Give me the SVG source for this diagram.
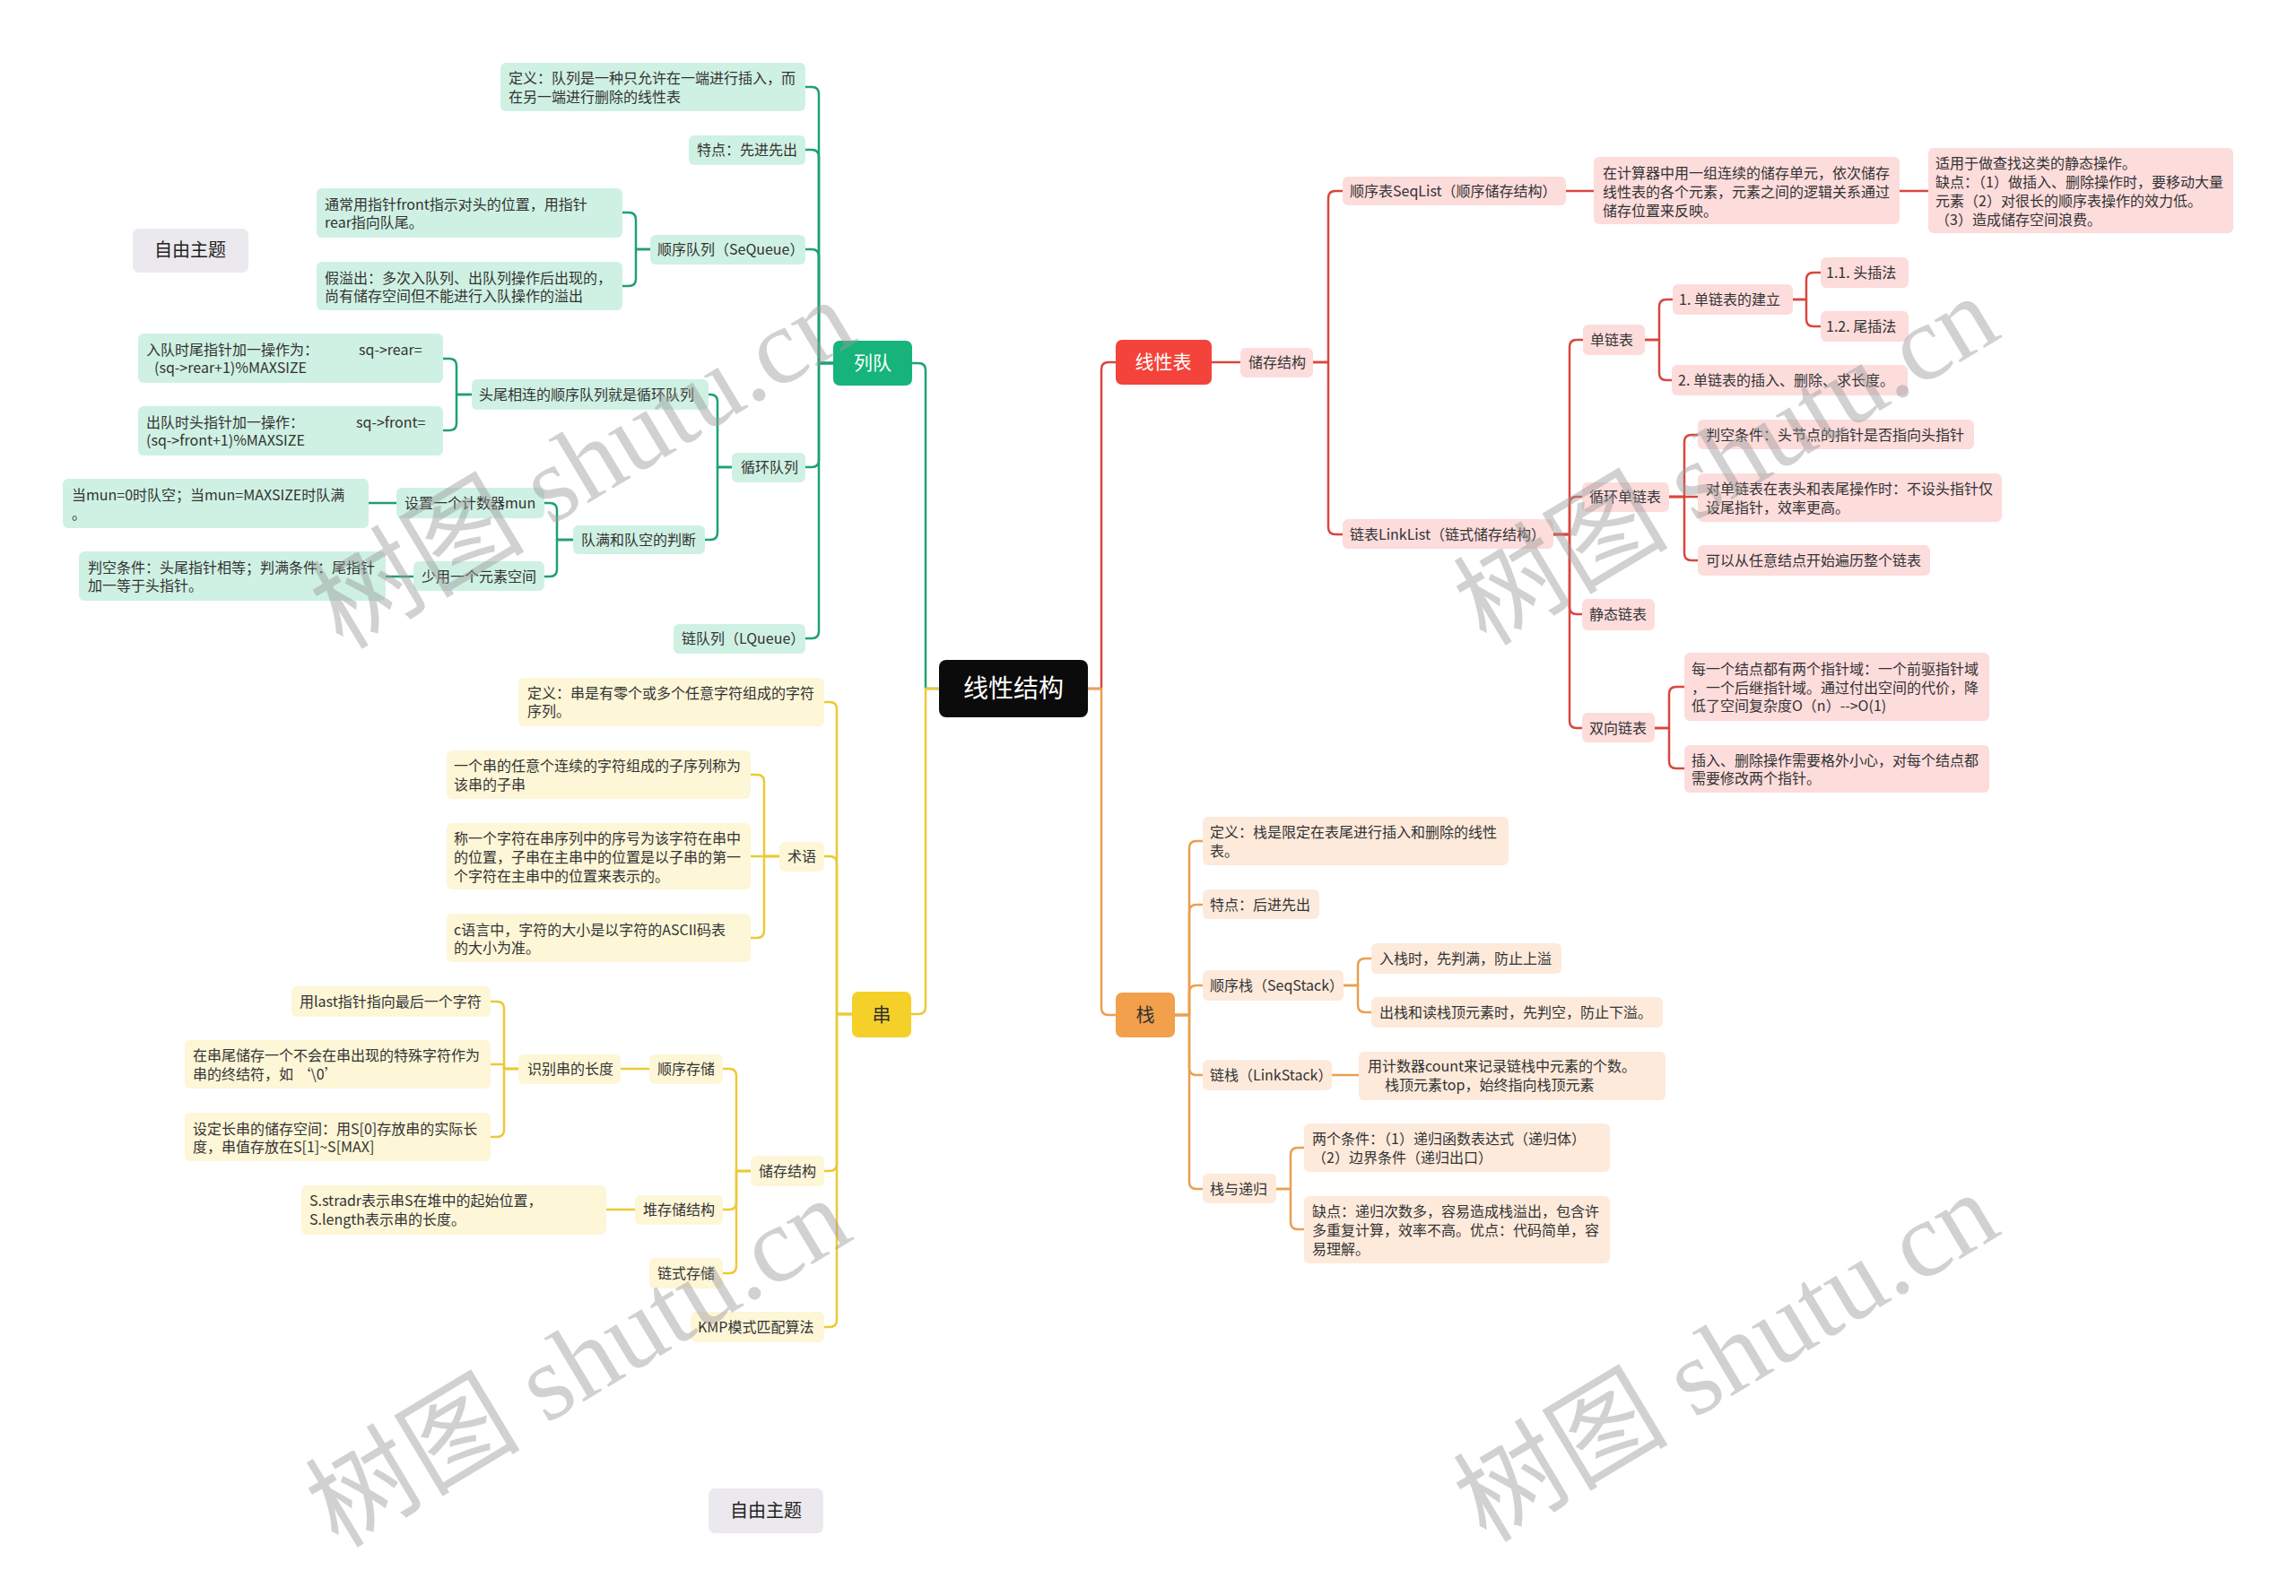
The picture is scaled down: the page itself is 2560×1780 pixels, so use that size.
<svg xmlns="http://www.w3.org/2000/svg" width="2560" height="1780" viewBox="0 0 2560 1780">
<style>
text{font-family:"Noto Sans CJK SC","Noto Sans",sans-serif}
.t{font-size:16px;fill:#333}
.m{font-size:21px;text-anchor:middle}
.lg{fill:#cff1e3}
.ly{fill:#fdf6d7}
.lr{fill:#fddcdc}
.lo{fill:#fdeadb}
.c{fill:none;stroke-width:2.5;stroke-linecap:round;stroke-linejoin:round}
.cg{stroke:#1fa073}
.cy{stroke:#ecc935}
.cr{stroke:#d9473f}
.co{stroke:#eaa050}
.free{fill:#ebe9ed}
.wm{font-family:"Liberation Serif","Noto Sans CJK SC",serif;font-size:120px;fill:#9a9a9a;opacity:.45;text-anchor:middle}
</style>
<rect width="2560" height="1780" fill="#ffffff"/>

<g id="connectors">
  <path class="c cg" d="M1047 768 H1032 V413 Q1032 405 1024 405 H1017"/>
  <path class="c cy" d="M1047 768 H1032 V1123 Q1032 1131 1024 1131 H1016"/>
  <path class="c cr" d="M1213 768 H1228 V412 Q1228 404 1236 404 H1244"/>
  <path class="c co" d="M1213 768 H1228 V1124 Q1228 1132 1236 1132 H1244"/>
  <path class="c cg" d="M929 405 H913 V105 Q913 97 905 97 H898"/>
  <path class="c cg" d="M929 405 H913 V175 Q913 167 905 167 H898"/>
  <path class="c cg" d="M929 405 H913 V286 Q913 278 905 278 H898"/>
  <path class="c cg" d="M929 405 H913 V513 Q913 521 905 521 H898"/>
  <path class="c cg" d="M929 405 H913 V704 Q913 712 905 712 H898"/>
  <path class="c cg" d="M725 278 H709 V245 Q709 237 701 237 H694"/>
  <path class="c cg" d="M725 278 H709 V311 Q709 319 701 319 H694"/>
  <path class="c cg" d="M816 521 H800 V448 Q800 440 792 440 H790"/>
  <path class="c cg" d="M816 521 H800 V594 Q800 602 792 602 H786"/>
  <path class="c cg" d="M526 440 H509 V408 Q509 400 501 400 H494"/>
  <path class="c cg" d="M526 440 H509 V472 Q509 480 501 480 H494"/>
  <path class="c cg" d="M639 602 H621 V569 Q621 561 613 561 H607"/>
  <path class="c cg" d="M639 602 H621 V635 Q621 643 613 643 H607"/>
  <path class="c cg" d="M442 561 H411"/>
  <path class="c cg" d="M461 643 H430"/>
  <path class="c cy" d="M950 1131 H933 V791 Q933 783 925 783 H919"/>
  <path class="c cy" d="M950 1131 H933 V963 Q933 955 925 955 H919"/>
  <path class="c cy" d="M950 1131 H933 V1298 Q933 1306 925 1306 H919"/>
  <path class="c cy" d="M950 1131 H933 V1472 Q933 1480 925 1480 H919"/>
  <path class="c cy" d="M869 955 H852 V872 Q852 864 844 864 H837"/>
  <path class="c cy" d="M869 955 H837"/>
  <path class="c cy" d="M869 955 H852 V1038 Q852 1046 844 1046 H837"/>
  <path class="c cy" d="M837 1306 H821 V1200 Q821 1192 813 1192 H806"/>
  <path class="c cy" d="M837 1306 H821 V1341 Q821 1349 813 1349 H806"/>
  <path class="c cy" d="M837 1306 H821 V1412 Q821 1420 813 1420 H806"/>
  <path class="c cy" d="M724 1192 H692"/>
  <path class="c cy" d="M578 1192 H562 V1125 Q562 1117 554 1117 H547"/>
  <path class="c cy" d="M578 1192 H562 V1187 H547"/>
  <path class="c cy" d="M578 1192 H562 V1260 Q562 1268 554 1268 H547"/>
  <path class="c cy" d="M708 1349 H676"/>
  <path class="c cr" d="M1351 404 H1383"/>
  <path class="c cr" d="M1464 404 H1481 V221 Q1481 213 1489 213 H1497"/>
  <path class="c cr" d="M1464 404 H1481 V588 Q1481 596 1489 596 H1497"/>
  <path class="c cr" d="M1746 213 H1777"/>
  <path class="c cr" d="M2118 213 H2150"/>
  <path class="c cr" d="M1732 596 H1750 V387 Q1750 379 1758 379 H1765"/>
  <path class="c cr" d="M1732 596 H1750 V562 Q1750 554 1758 554 H1764"/>
  <path class="c cr" d="M1732 596 H1750 V677 Q1750 685 1758 685 H1764"/>
  <path class="c cr" d="M1732 596 H1750 V804 Q1750 812 1758 812 H1764"/>
  <path class="c cr" d="M1834 379 H1850 V342 Q1850 334 1858 334 H1865"/>
  <path class="c cr" d="M1834 379 H1850 V416 Q1850 424 1858 424 H1864"/>
  <path class="c cr" d="M1999 334 H2014 V312 Q2014 304 2022 304 H2030"/>
  <path class="c cr" d="M1999 334 H2014 V356 Q2014 364 2022 364 H2030"/>
  <path class="c cr" d="M1861 554 H1878 V493 Q1878 485 1886 485 H1893"/>
  <path class="c cr" d="M1861 554 H1893"/>
  <path class="c cr" d="M1861 554 H1878 V617 Q1878 625 1886 625 H1893"/>
  <path class="c cr" d="M1845 812 H1861 V774 Q1861 766 1869 766 H1878"/>
  <path class="c cr" d="M1845 812 H1861 V849 Q1861 857 1869 857 H1878"/>
  <path class="c co" d="M1310 1132 H1326 V946 Q1326 938 1334 938 H1341"/>
  <path class="c co" d="M1310 1132 H1326 V1017 Q1326 1009 1334 1009 H1341"/>
  <path class="c co" d="M1310 1132 H1326 V1107 Q1326 1099 1334 1099 H1341"/>
  <path class="c co" d="M1310 1132 H1326 V1191 Q1326 1199 1334 1199 H1341"/>
  <path class="c co" d="M1310 1132 H1326 V1318 Q1326 1326 1334 1326 H1341"/>
  <path class="c co" d="M1498 1099 H1514 V1077 Q1514 1069 1522 1069 H1529"/>
  <path class="c co" d="M1498 1099 H1514 V1121 Q1514 1129 1522 1129 H1529"/>
  <path class="c co" d="M1485 1199 H1515"/>
  <path class="c co" d="M1423 1326 H1439 V1288 Q1439 1280 1447 1280 H1454"/>
  <path class="c co" d="M1423 1326 H1439 V1363 Q1439 1371 1447 1371 H1454"/>
</g>

<g id="root">
  <rect x="1047" y="736" width="166" height="64" rx="8" fill="#0b0b0b"/>
  <text x="1130" y="778" style="font-size:28px;fill:#fff;text-anchor:middle">线性结构</text>
</g>

<g id="queue">
  <rect x="929" y="380" width="88" height="50" rx="7" fill="#16b47a"/>
  <text class="m" x="973" y="412" fill="#fff">列队</text>
</g>
<g id="string">
  <rect x="950" y="1106" width="66" height="51" rx="7" fill="#f5d028"/>
  <text class="m" x="983" y="1139" fill="#333">串</text>
</g>
<g id="linear-list">
  <rect x="1244" y="379" width="107" height="50" rx="7" fill="#f3433a"/>
  <text class="m" x="1297" y="411" fill="#fff">线性表</text>
</g>
<g id="stack">
  <rect x="1244" y="1107" width="66" height="50" rx="7" fill="#f2a04b"/>
  <text class="m" x="1277" y="1139" fill="#333">栈</text>
</g>

<g id="free1">
  <rect class="free" x="148" y="255" width="129" height="49" rx="7"/>
  <text x="212" y="286" style="font-size:20px;fill:#222;text-anchor:middle">自由主题</text>
</g>
<g id="free2">
  <rect class="free" x="790" y="1660" width="128" height="50" rx="7"/>
  <text x="854" y="1692" style="font-size:20px;fill:#222;text-anchor:middle">自由主题</text>
</g>

<g id="q-def"><rect class="lg" x="558" y="70" width="340" height="54" rx="6"/>
  <text class="t"><tspan x="567" y="93">定义：队列是一种只允许在一端进行插入，而</tspan><tspan x="567" y="114">在另一端进行删除的线性表</tspan></text></g>
<g id="q-feature"><rect class="lg" x="768" y="151" width="130" height="33" rx="6"/>
  <text class="t" x="777" y="173">特点：先进先出</text></g>
<g id="q-seq"><rect class="lg" x="725" y="262" width="173" height="33" rx="6"/>
  <text class="t" x="733" y="284">顺序队列（SeQueue）</text></g>
<g id="q-seq-1"><rect class="lg" x="353" y="210" width="341" height="55" rx="6"/>
  <text class="t"><tspan x="362" y="234">通常用指针front指示对头的位置，用指针</tspan><tspan x="362" y="254">rear指向队尾。</tspan></text></g>
<g id="q-seq-2"><rect class="lg" x="353" y="292" width="341" height="54" rx="6"/>
  <text class="t"><tspan x="362" y="316">假溢出：多次入队列、出队列操作后出现的，</tspan><tspan x="362" y="336">尚有储存空间但不能进行入队操作的溢出</tspan></text></g>
<g id="q-circ"><rect class="lg" x="816" y="505" width="82" height="33" rx="6"/>
  <text class="t" x="826" y="527">循环队列</text></g>
<g id="q-circ-1"><rect class="lg" x="526" y="423" width="264" height="34" rx="6"/>
  <text class="t" x="534" y="446">头尾相连的顺序队列就是循环队列</text></g>
<g id="q-circ-1a"><rect class="lg" x="154" y="372" width="340" height="55" rx="6"/>
  <text class="t"><tspan x="163" y="396">入队时尾指针加一操作为：</tspan><tspan x="400" y="396">sq-&gt;rear=</tspan><tspan x="172" y="416">(sq-&gt;rear+1)%MAXSIZE</tspan></text></g>
<g id="q-circ-1b"><rect class="lg" x="154" y="453" width="340" height="55" rx="6"/>
  <text class="t"><tspan x="163" y="477">出队时头指针加一操作：</tspan><tspan x="397" y="477">sq-&gt;front=</tspan><tspan x="163" y="497">(sq-&gt;front+1)%MAXSIZE</tspan></text></g>
<g id="q-circ-2"><rect class="lg" x="639" y="586" width="147" height="32" rx="6"/>
  <text class="t" x="648" y="608">队满和队空的判断</text></g>
<g id="q-circ-2a"><rect class="lg" x="442" y="544" width="165" height="34" rx="6"/>
  <text class="t" x="451" y="567">设置一个计数器mun</text></g>
<g id="q-circ-2a1"><rect class="lg" x="70" y="534" width="341" height="55" rx="6"/>
  <text class="t"><tspan x="80" y="558">当mun=0时队空；当mun=MAXSIZE时队满</tspan><tspan x="80" y="579">。</tspan></text></g>
<g id="q-circ-2b"><rect class="lg" x="461" y="626" width="146" height="33" rx="6"/>
  <text class="t" x="470" y="649">少用一个元素空间</text></g>
<g id="q-circ-2b1"><rect class="lg" x="88" y="615" width="342" height="55" rx="6"/>
  <text class="t"><tspan x="98" y="639">判空条件：头尾指针相等；判满条件：尾指针</tspan><tspan x="98" y="659">加一等于头指针。</tspan></text></g>
<g id="q-link"><rect class="lg" x="751" y="696" width="147" height="33" rx="6"/>
  <text class="t" x="760" y="718">链队列（LQueue）</text></g>

<g id="s-def"><rect class="ly" x="578" y="756" width="341" height="54" rx="6"/>
  <text class="t"><tspan x="588" y="779">定义：串是有零个或多个任意字符组成的字符</tspan><tspan x="588" y="799">序列。</tspan></text></g>
<g id="s-term"><rect class="ly" x="869" y="939" width="50" height="33" rx="6"/>
  <text class="t" x="878" y="961">术语</text></g>
<g id="s-term-1"><rect class="ly" x="498" y="837" width="339" height="54" rx="6"/>
  <text class="t"><tspan x="506" y="860">一个串的任意个连续的字符组成的子序列称为</tspan><tspan x="506" y="881">该串的子串</tspan></text></g>
<g id="s-term-2"><rect class="ly" x="498" y="918" width="339" height="74" rx="6"/>
  <text class="t"><tspan x="506" y="941">称一个字符在串序列中的序号为该字符在串中</tspan><tspan x="506" y="962">的位置，子串在主串中的位置是以子串的第一</tspan><tspan x="506" y="983">个字符在主串中的位置来表示的。</tspan></text></g>
<g id="s-term-3"><rect class="ly" x="498" y="1019" width="339" height="54" rx="6"/>
  <text class="t"><tspan x="506" y="1043">c语言中，字符的大小是以字符的ASCII码表</tspan><tspan x="506" y="1063">的大小为准。</tspan></text></g>
<g id="s-store"><rect class="ly" x="837" y="1289" width="82" height="34" rx="6"/>
  <text class="t" x="846" y="1312">储存结构</text></g>
<g id="s-seq"><rect class="ly" x="724" y="1176" width="82" height="33" rx="6"/>
  <text class="t" x="733" y="1198">顺序存储</text></g>
<g id="s-len"><rect class="ly" x="578" y="1176" width="114" height="33" rx="6"/>
  <text class="t" x="588" y="1198">识别串的长度</text></g>
<g id="s-len-1"><rect class="ly" x="325" y="1100" width="222" height="34" rx="6"/>
  <text class="t" x="334" y="1123">用last指针指向最后一个字符</text></g>
<g id="s-len-2"><rect class="ly" x="206" y="1160" width="341" height="54" rx="6"/>
  <text class="t"><tspan x="215" y="1183">在串尾储存一个不会在串出现的特殊字符作为</tspan><tspan x="215" y="1204">串的终结符，如 ‘\0’</tspan></text></g>
<g id="s-len-3"><rect class="ly" x="206" y="1241" width="341" height="54" rx="6"/>
  <text class="t"><tspan x="215" y="1265">设定长串的储存空间：用S[0]存放串的实际长</tspan><tspan x="215" y="1285">度，串值存放在S[1]~S[MAX]</tspan></text></g>
<g id="s-heap"><rect class="ly" x="708" y="1333" width="98" height="33" rx="6"/>
  <text class="t" x="717" y="1355">堆存储结构</text></g>
<g id="s-heap-1"><rect class="ly" x="336" y="1322" width="340" height="55" rx="6"/>
  <text class="t"><tspan x="345" y="1345">S.stradr表示串S在堆中的起始位置，</tspan><tspan x="345" y="1366">S.length表示串的长度。</tspan></text></g>
<g id="s-link"><rect class="ly" x="724" y="1403" width="82" height="34" rx="6"/>
  <text class="t" x="733" y="1426">链式存储</text></g>
<g id="s-kmp"><rect class="ly" x="770" y="1463" width="149" height="34" rx="6"/>
  <text class="t" x="778" y="1486">KMP模式匹配算法</text></g>

<g id="l-store"><rect class="lr" x="1383" y="388" width="81" height="33" rx="6"/>
  <text class="t" x="1392" y="410">储存结构</text></g>
<g id="l-seq"><rect class="lr" x="1497" y="197" width="249" height="32" rx="6"/>
  <text class="t" x="1505" y="219">顺序表SeqList（顺序储存结构）</text></g>
<g id="l-seq-1"><rect class="lr" x="1777" y="175" width="341" height="75" rx="6"/>
  <text class="t"><tspan x="1787" y="199">在计算器中用一组连续的储存单元，依次储存</tspan><tspan x="1787" y="220">线性表的各个元素，元素之间的逻辑关系通过</tspan><tspan x="1787" y="241">储存位置来反映。</tspan></text></g>
<g id="l-seq-2"><rect class="lr" x="2150" y="165" width="340" height="95" rx="6"/>
  <text class="t"><tspan x="2158" y="188">适用于做查找这类的静态操作。</tspan><tspan x="2158" y="209">缺点：（1）做插入、删除操作时，要移动大量</tspan><tspan x="2158" y="230">元素（2）对很长的顺序表操作的效力低。</tspan><tspan x="2158" y="251">（3）造成储存空间浪费。</tspan></text></g>
<g id="l-link"><rect class="lr" x="1497" y="579" width="235" height="33" rx="6"/>
  <text class="t" x="1505" y="602">链表LinkList（链式储存结构）</text></g>
<g id="l-single"><rect class="lr" x="1765" y="362" width="69" height="34" rx="6"/>
  <text class="t" x="1773" y="385">单链表</text></g>
<g id="l-single-1"><rect class="lr" x="1865" y="317" width="134" height="34" rx="6"/>
  <text class="t" x="1872" y="340">1. 单链表的建立</text></g>
<g id="l-single-1a"><rect class="lr" x="2030" y="287" width="98" height="34" rx="6"/>
  <text class="t" x="2036" y="310">1.1. 头插法</text></g>
<g id="l-single-1b"><rect class="lr" x="2030" y="347" width="98" height="34" rx="6"/>
  <text class="t" x="2036" y="370">1.2. 尾插法</text></g>
<g id="l-single-2"><rect class="lr" x="1864" y="407" width="263" height="34" rx="6"/>
  <text class="t" x="1871" y="430">2. 单链表的插入、删除、求长度。</text></g>
<g id="l-circ"><rect class="lr" x="1764" y="538" width="97" height="33" rx="6"/>
  <text class="t" x="1772" y="560">循环单链表</text></g>
<g id="l-circ-1"><rect class="lr" x="1893" y="468" width="308" height="33" rx="6"/>
  <text class="t" x="1902" y="491">判空条件：头节点的指针是否指向头指针</text></g>
<g id="l-circ-2"><rect class="lr" x="1893" y="528" width="339" height="54" rx="6"/>
  <text class="t"><tspan x="1902" y="551">对单链表在表头和表尾操作时：不设头指针仅</tspan><tspan x="1902" y="572">设尾指针，效率更高。</tspan></text></g>
<g id="l-circ-3"><rect class="lr" x="1893" y="608" width="259" height="34" rx="6"/>
  <text class="t" x="1902" y="631">可以从任意结点开始遍历整个链表</text></g>
<g id="l-static"><rect class="lr" x="1764" y="668" width="81" height="35" rx="6"/>
  <text class="t" x="1772" y="691">静态链表</text></g>
<g id="l-double"><rect class="lr" x="1764" y="795" width="81" height="33" rx="6"/>
  <text class="t" x="1772" y="818">双向链表</text></g>
<g id="l-double-1"><rect class="lr" x="1878" y="728" width="340" height="76" rx="6"/>
  <text class="t"><tspan x="1886" y="752">每一个结点都有两个指针域：一个前驱指针域</tspan><tspan x="1886" y="773">，一个后继指针域。通过付出空间的代价，降</tspan><tspan x="1886" y="793">低了空间复杂度O（n）--&gt;O(1)</tspan></text></g>
<g id="l-double-2"><rect class="lr" x="1878" y="831" width="340" height="53" rx="6"/>
  <text class="t"><tspan x="1886" y="854">插入、删除操作需要格外小心，对每个结点都</tspan><tspan x="1886" y="874">需要修改两个指针。</tspan></text></g>

<g id="k-def"><rect class="lo" x="1341" y="911" width="341" height="54" rx="6"/>
  <text class="t"><tspan x="1349" y="934">定义：栈是限定在表尾进行插入和删除的线性</tspan><tspan x="1349" y="955">表。</tspan></text></g>
<g id="k-feature"><rect class="lo" x="1341" y="992" width="130" height="33" rx="6"/>
  <text class="t" x="1349" y="1015">特点：后进先出</text></g>
<g id="k-seq"><rect class="lo" x="1341" y="1082" width="157" height="34" rx="6"/>
  <text class="t" x="1349" y="1105">顺序栈（SeqStack）</text></g>
<g id="k-seq-1"><rect class="lo" x="1529" y="1052" width="212" height="34" rx="6"/>
  <text class="t" x="1538" y="1075">入栈时，先判满，防止上溢</text></g>
<g id="k-seq-2"><rect class="lo" x="1529" y="1112" width="325" height="34" rx="6"/>
  <text class="t" x="1538" y="1135">出栈和读栈顶元素时，先判空，防止下溢。</text></g>
<g id="k-link"><rect class="lo" x="1341" y="1182" width="144" height="34" rx="6"/>
  <text class="t" x="1349" y="1205">链栈（LinkStack）</text></g>
<g id="k-link-1"><rect class="lo" x="1515" y="1173" width="342" height="54" rx="6"/>
  <text class="t"><tspan x="1525" y="1195">用计数器count来记录链栈中元素的个数。</tspan><tspan x="1544" y="1216">栈顶元素top，始终指向栈顶元素</tspan></text></g>
<g id="k-rec"><rect class="lo" x="1341" y="1309" width="82" height="33" rx="6"/>
  <text class="t" x="1349" y="1332">栈与递归</text></g>
<g id="k-rec-1"><rect class="lo" x="1454" y="1253" width="341" height="54" rx="6"/>
  <text class="t"><tspan x="1463" y="1276">两个条件：（1）递归函数表达式（递归体）</tspan><tspan x="1463" y="1297">（2）边界条件（递归出口）</tspan></text></g>
<g id="k-rec-2"><rect class="lo" x="1454" y="1334" width="341" height="75" rx="6"/>
  <text class="t"><tspan x="1463" y="1357">缺点：递归次数多，容易造成栈溢出，包含许</tspan><tspan x="1463" y="1378">多重复计算，效率不高。优点：代码简单，容</tspan><tspan x="1463" y="1399">易理解。</tspan></text></g>

<g id="watermark">
  <text class="wm" transform="translate(650 518) rotate(-31)" y="40">树图 shutu.cn</text>
  <text class="wm" transform="translate(1925 514) rotate(-31)" y="40">树图 shutu.cn</text>
  <text class="wm" transform="translate(645 1520) rotate(-31)" y="40">树图 shutu.cn</text>
  <text class="wm" transform="translate(1925 1514) rotate(-31)" y="40">树图 shutu.cn</text>
</g>
</svg>
